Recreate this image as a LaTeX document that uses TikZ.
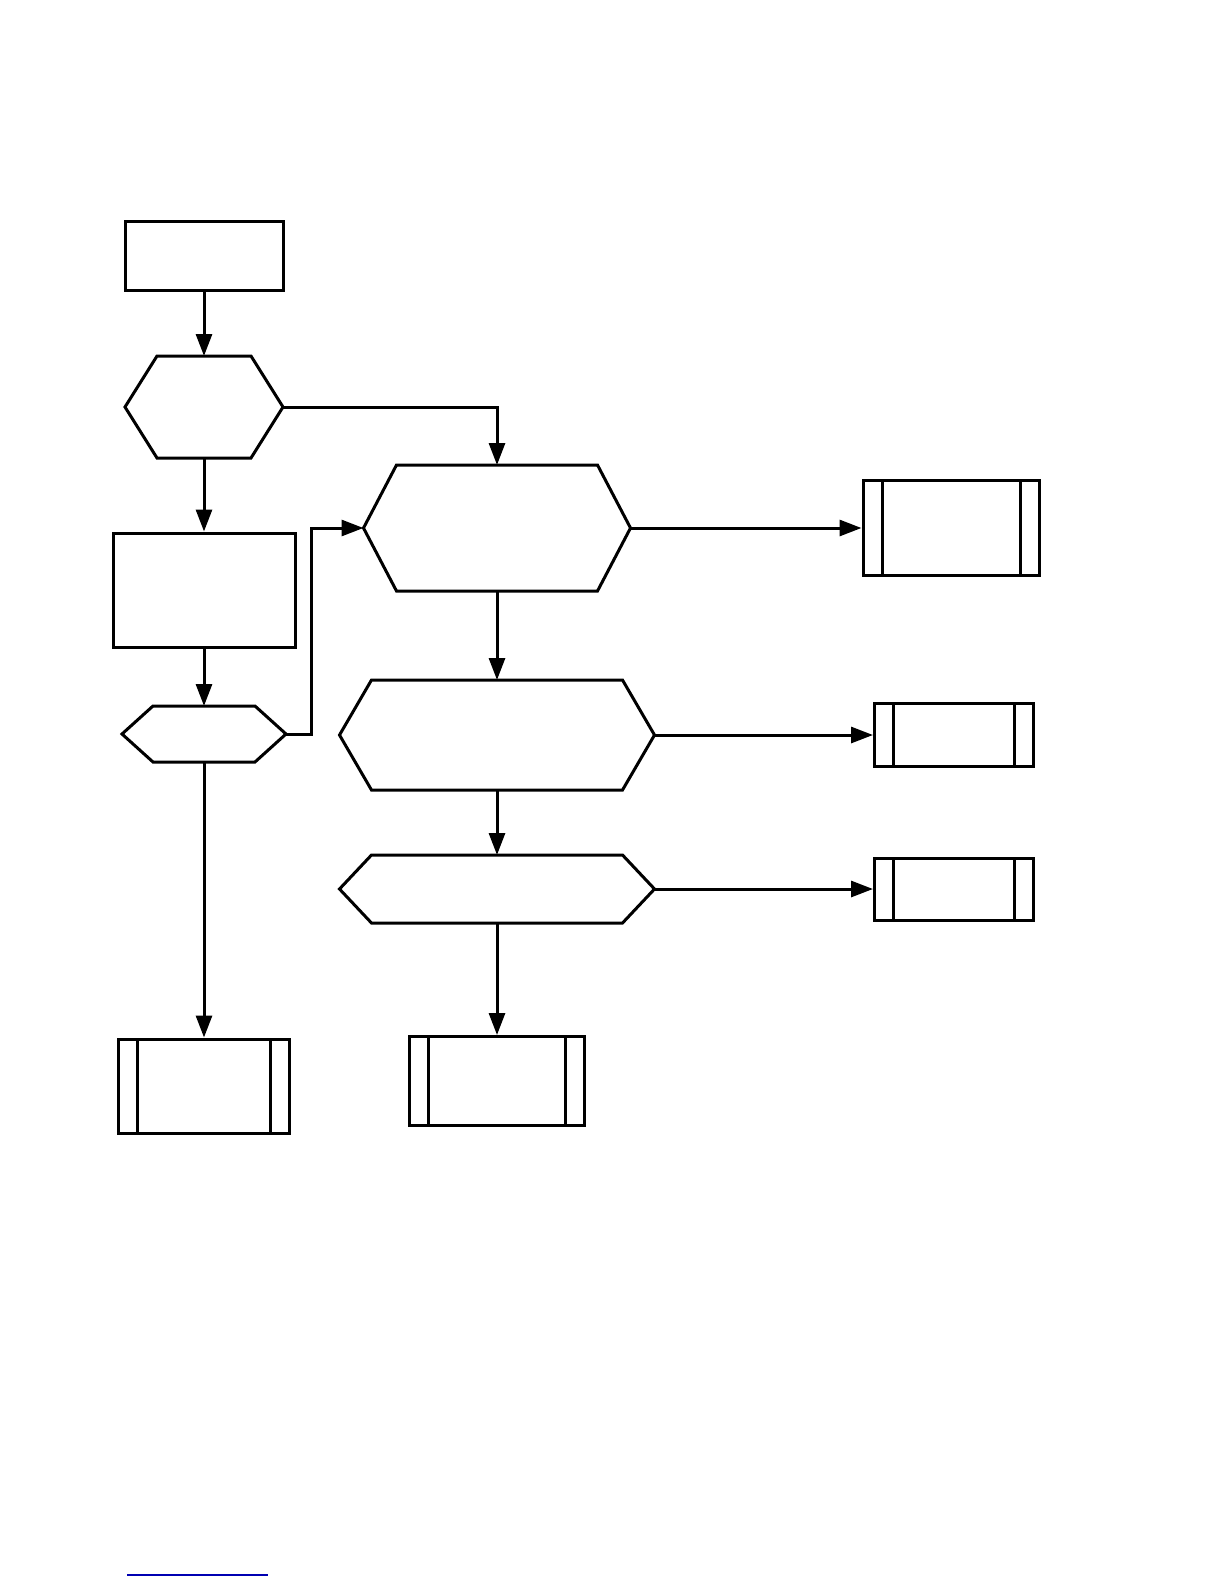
\documentclass[tikz,border=0pt]{standalone}
\usetikzlibrary{arrows.meta}
\newcommand\hexoutline[2]{%
  \draw[line width=1.5pt, line join=miter] (#1.west) -- ([xshift=#2]#1.north west) -- ([xshift=-#2]#1.north east)
    -- (#1.east) -- ([xshift=-#2]#1.south east) -- ([xshift=#2]#1.south west) -- cycle;}
\begin{document}
\begin{tikzpicture}[
  x=0.5pt, y=-0.5pt,
  line width=1.5pt,
  box/.style={draw, inner sep=0pt},
  hexa/.style={inner sep=0pt, outer sep=0pt},
  subproc/.style={draw, inner sep=0pt, path picture={
    \draw ([xshift=9.5pt]path picture bounding box.north west) -- ([xshift=9.5pt]path picture bounding box.south west);
    \draw ([xshift=-9.5pt]path picture bounding box.north east) -- ([xshift=-9.5pt]path picture bounding box.south east);}},
  flow/.style={-{Triangle[length=11pt,width=8pt]}}
]
\useasboundingbox (0,0) rectangle (1224,1584);
\node[box, minimum width=79pt, minimum height=34.5pt] (start) at (204,255.5) {};
\node[hexa, minimum width=79pt, minimum height=51pt] (q1) at (204,407) {};
\node[box, minimum width=91pt, minimum height=57pt] (prep) at (204,590) {};
\node[hexa, minimum width=82pt, minimum height=28pt] (q2) at (204,734) {};
\node[hexa, minimum width=133.5pt, minimum height=63pt] (q3) at (497,528) {};
\node[hexa, minimum width=157.5pt, minimum height=55pt] (q4) at (497,735) {};
\node[hexa, minimum width=157.5pt, minimum height=34pt] (q5) at (497,889) {};
\node[subproc, minimum width=88pt, minimum height=47.5pt] (outA) at (951,528) {};
\node[subproc, minimum width=79.5pt, minimum height=31.5pt] (outB) at (954,735) {};
\node[subproc, minimum width=79.5pt, minimum height=31pt] (outC) at (954,889) {};
\node[subproc, minimum width=85.5pt, minimum height=47pt] (outD) at (204,1086) {};
\node[subproc, minimum width=87.5pt, minimum height=44.5pt] (outE) at (497,1081) {};
\hexoutline{q1}{16pt}
\hexoutline{q2}{15.5pt}
\hexoutline{q3}{16.5pt}
\hexoutline{q4}{16pt}
\hexoutline{q5}{16pt}
\coordinate (bend) at (311,734);
\draw[flow] (start) -- (q1);
\draw[flow] (q1) -- (prep);
\draw[flow] (prep) -- (q2);
\draw[flow] (q2) -- (outD);
\draw[flow] (q1.east) -| (q3.north);
\draw[flow] (q2.east) -- (bend) |- (q3.west);
\draw[flow] (q3.east) -- (outA.west);
\draw[flow] (q3) -- (q4);
\draw[flow] (q4.east) -- (outB.west);
\draw[flow] (q4) -- (q5);
\draw[flow] (q5.east) -- (outC.west);
\draw[flow] (q5) -- (outE);
\draw[line width=0.6pt, blue!70!black] (127,1575) -- (268,1575);
\end{tikzpicture}
\end{document}
